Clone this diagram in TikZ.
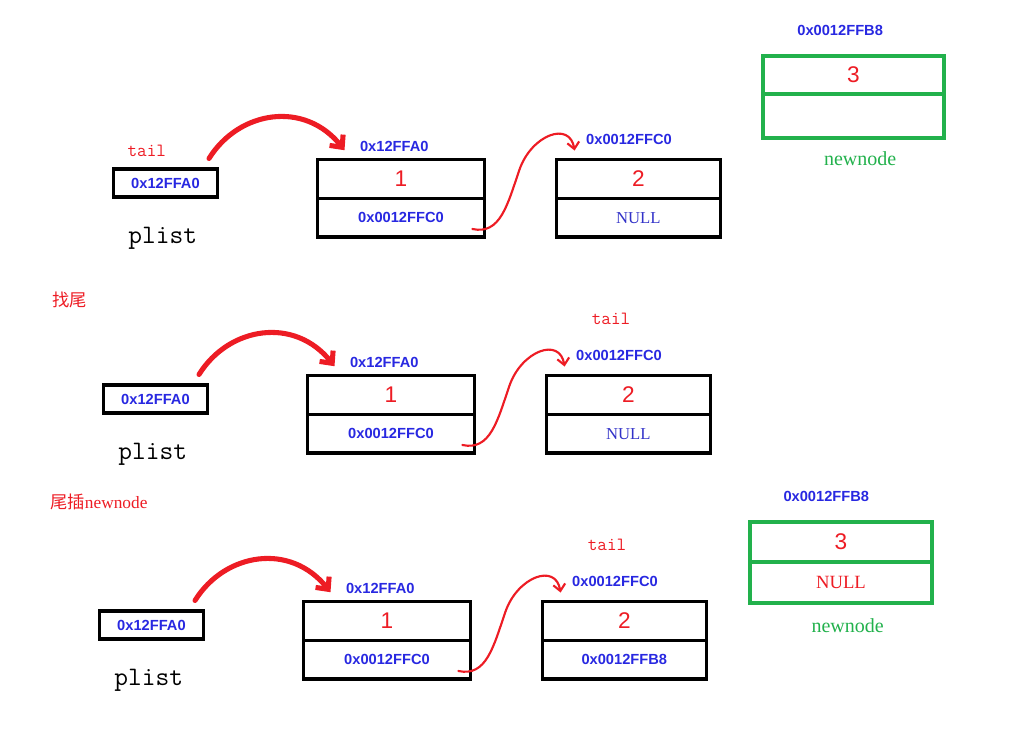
\documentclass[tikz,border=0pt]{standalone}
\usepackage{fontspec}
\setmainfont{Liberation Serif}
\newfontfamily\adrfont{Liberation Sans}
\newfontfamily\cjk{Noto Sans CJK SC}
\usetikzlibrary{positioning, arrows.meta}

\definecolor{paintred}{RGB}{237,28,36}
\definecolor{paintgreen}{RGB}{34,177,76}
\definecolor{adrblue}{RGB}{40,40,225}
\definecolor{nullblue}{RGB}{50,50,200}

\begin{document}
\begin{tikzpicture}[
        x=0.75pt, y=-0.75pt,
        cell/.style={rectangle, draw, line width=2.3pt, outer sep=0pt, inner sep=0pt, minimum width=125pt, minimum height=29pt},
        newcell/.style={cell, draw=paintgreen, line width=3pt, minimum width=136pt},
        ptrbox/.style={rectangle, draw, line width=2.3pt, inner sep=0pt, minimum width=78pt, minimum height=21pt, font=\adrfont\bfseries\fontsize{11}{13}\selectfont, text=adrblue},
        adr/.style={inner sep=1pt, font=\adrfont\bfseries\fontsize{11}{13}\selectfont, text=adrblue},
        num/.style={font=\adrfont\fontsize{17}{19}\selectfont, text=paintred},
        nul/.style={font=\fontsize{12.5}{14}\selectfont, text=nullblue},
        varname/.style={inner sep=1pt, font=\ttfamily\fontsize{20}{22}\selectfont},
        tailname/.style={inner sep=1pt, font=\ttfamily\fontsize{14}{16}\selectfont, text=paintred},
        title/.style={anchor=west, inner sep=0pt, font=\fontsize{13}{15}\selectfont, text=paintred},
        greenname/.style={inner sep=1pt, font=\fontsize{15}{17}\selectfont, text=paintgreen},
        bigarrow/.style={draw=paintred, line width=3.8pt, line cap=round, -{Straight Barb[length=7pt, width=13pt]}},
        linkarrow/.style={draw=paintred, line width=1.6pt, line cap=round, -{Straight Barb[length=5pt, width=9pt]}}
    ]
    \useasboundingbox (0,0) rectangle (1015,731);

    % 第一行
    \begin{scope}
    \node[cell, num] (n1topA) at (401,179) {1};
    \node[cell, adr, below=0pt of n1topA] (n1botA) {0x0012FFC0};
    \node[adr, above=5pt of n1topA, xshift=-5pt] (adr1A) {0x12FFA0};
    \node[ptrbox, left=74pt of n1topA, yshift=-3pt] (ptrA) {0x12FFA0};
    \node[varname, below=20pt of ptrA, xshift=-2pt] (plistA) {plist};
    \node[tailname, above=7pt of ptrA, xshift=-14pt] (tailA) {tail};
    \node[cell, num, right=54pt of n1topA, minimum width=123pt] (n2topA) {2};
    \node[cell, nul, below=0pt of n2topA, minimum width=123pt] (n2botA) {NULL};
    \node[adr, above=10pt of n2topA, xshift=-7pt] (adr2A) {0x0012FFC0};
    \coordinate (midA) at ([shift={(35,-67)}]n1botA.south east);

    \draw[bigarrow] ([shift={(-10,-9)}]ptrA.north east) .. controls +(30,-48) and +(-40,-50) .. ([shift={(-14,4)}]adr1A.west);
    \draw[linkarrow] ([shift={(-12,-8)}]n1botA.south east) .. controls +(28,6) and +(-12,35) .. (midA) .. controls +(12,-35) and +(-5,-30) .. ([shift={(-10,11)}]adr2A.west);
    \end{scope}

    % 新结点
    \node[newcell, num, minimum height=28pt] (n3top) at (853.5,75) {3};
    \node[newcell, below=0pt of n3top, minimum height=33pt] (n3bot) {};
    \node[adr, above=14pt of n3top, xshift=-10pt] (adr3) {0x0012FFB8};
    \node[greenname, below=9pt of n3bot, xshift=5pt] (newname) {newnode};

    % 找尾
    \node[title] (findtail) at (52,300) {{\cjk 找尾}};
    \begin{scope}[shift={(-10,216)}]
    \node[cell, num] (n1topB) at (401,179) {1};
    \node[cell, adr, below=0pt of n1topB] (n1botB) {0x0012FFC0};
    \node[adr, above=5pt of n1topB, xshift=-5pt] (adr1B) {0x12FFA0};
    \node[ptrbox, left=74pt of n1topB, yshift=-3pt] (ptrB) {0x12FFA0};
    \node[varname, below=20pt of ptrB, xshift=-2pt] (plistB) {plist};
    \node[cell, num, right=54pt of n1topB, minimum width=123pt] (n2topB) {2};
    \node[cell, nul, below=0pt of n2topB, minimum width=123pt] (n2botB) {NULL};
    \node[adr, above=10pt of n2topB, xshift=-7pt] (adr2B) {0x0012FFC0};
    \node[tailname, above=17pt of adr2B, xshift=-6pt] (tailB) {tail};
    \coordinate (midB) at ([shift={(35,-67)}]n1botB.south east);

    \draw[bigarrow] ([shift={(-10,-9)}]ptrB.north east) .. controls +(30,-48) and +(-40,-50) .. ([shift={(-14,4)}]adr1B.west);
    \draw[linkarrow] ([shift={(-12,-8)}]n1botB.south east) .. controls +(28,6) and +(-12,35) .. (midB) .. controls +(12,-35) and +(-5,-30) .. ([shift={(-10,11)}]adr2B.west);
    \end{scope}

    % 尾插newnode
    \node[title] (insert) at (50,502) {{\cjk 尾插}newnode};
    \begin{scope}[shift={(-14,442)}]
    \node[cell, num] (n1topC) at (401,179) {1};
    \node[cell, adr, below=0pt of n1topC] (n1botC) {0x0012FFC0};
    \node[adr, above=5pt of n1topC, xshift=-5pt] (adr1C) {0x12FFA0};
    \node[ptrbox, left=74pt of n1topC, yshift=-3pt] (ptrC) {0x12FFA0};
    \node[varname, below=20pt of ptrC, xshift=-2pt] (plistC) {plist};
    \node[cell, num, right=54pt of n1topC, minimum width=123pt] (n2topC) {2};
    \node[cell, adr, below=0pt of n2topC, minimum width=123pt] (n2botC) {0x0012FFB8};
    \node[adr, above=10pt of n2topC, xshift=-7pt] (adr2C) {0x0012FFC0};
    \node[tailname, above=17pt of adr2C, xshift=-6pt] (tailC) {tail};
    \coordinate (midC) at ([shift={(35,-67)}]n1botC.south east);

    \draw[bigarrow] ([shift={(-10,-9)}]ptrC.north east) .. controls +(30,-48) and +(-40,-50) .. ([shift={(-14,4)}]adr1C.west);
    \draw[linkarrow] ([shift={(-12,-8)}]n1botC.south east) .. controls +(28,6) and +(-12,35) .. (midC) .. controls +(12,-35) and +(-5,-30) .. ([shift={(-10,11)}]adr2C.west);
    \end{scope}

    % 新结点 (尾插后)
    \node[newcell, num, minimum height=30pt] (n4top) at (841,542) {3};
    \node[newcell, below=0pt of n4top, minimum height=31pt, font=\fontsize{14}{16}\selectfont, text=paintred] (n4bot) {NULL};
    \node[adr, above=14pt of n4top, xshift=-11pt] (adr4) {0x0012FFB8};
    \node[greenname, below=10pt of n4bot, xshift=5pt] (newname4) {newnode};
\end{tikzpicture}
\end{document}
